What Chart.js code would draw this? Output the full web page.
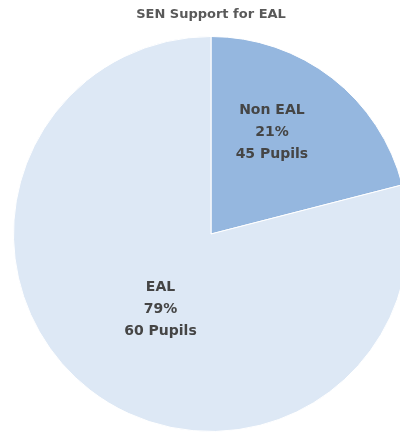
<!DOCTYPE html>
<html>
<head>
<meta charset="utf-8">
<script src="https://cdn.jsdelivr.net/npm/chart.js@4.4.0/dist/chart.umd.min.js"></script>
<style>
    html, body { margin: 0; padding: 0; background: #fff; overflow: hidden; }
    .wrap { width: 400px; height: 434px; overflow: hidden; position: relative; }
    .box { width: 422px; height: 434px; position: absolute; left: 0; top: 0; }
</style>
</head>
<body>
<div class="wrap"><div class="box"><canvas id="pie"></canvas></div></div>
<script>
"use strict";

let categories = ["Non EAL", "EAL"];
let percents = [21, 79];
let pupils = [45, 60];
let sliceColors = ["#95b7df", "#dde8f5"];
let labelDepth = [0.6, 0.46];
let labelTurn = [-0.12, -0.07];

// draws the three-line label inside each slice
let sliceLabels = {
    id: "sliceLabels",
    afterDatasetsDraw: function (chart) {
        let ctx = chart.ctx;
        let meta = chart.getDatasetMeta(0);
        ctx.save();
        ctx.fillStyle = "#454545";
        ctx.font = "bold 14px 'DejaVu Sans', sans-serif";
        ctx.textAlign = "center";
        ctx.textBaseline = "middle";
        meta.data.forEach(function (arc, i) {
            let p = arc.getProps(["x", "y", "startAngle", "endAngle", "outerRadius"], true);
            let mid = (p.startAngle + p.endAngle) / 2 + labelTurn[i];
            let r = p.outerRadius * labelDepth[i];
            let cx = p.x + Math.cos(mid) * r;
            let cy = p.y + Math.sin(mid) * r;
            let lines = [categories[i], percents[i] + "%", pupils[i] + " Pupils"];
            lines.forEach(function (txt, j) {
                ctx.fillText(txt, cx, cy + (j - 1) * 22);
            });
        });
        ctx.restore();
    }
};

new Chart(document.getElementById("pie").getContext("2d"), {
    type: "pie",
    data: {
        labels: categories,
        datasets: [{
            data: percents,
            backgroundColor: sliceColors,
            borderColor: "#ffffff",
            borderWidth: 1
        }]
    },
    options: {
        responsive: true,
        maintainAspectRatio: false,
        animation: false,
        layout: { padding: { bottom: 2 } },
        plugins: {
            legend: { display: false },
            tooltip: { enabled: false },
            title: {
                display: true,
                text: "SEN Support for EAL",
                color: "#595959",
                font: { family: "'DejaVu Sans', sans-serif", size: 13, weight: "bold", lineHeight: 1.2 },
                padding: { top: 7, bottom: 13.4 }
            }
        }
    },
    plugins: [sliceLabels]
});
</script>
</body>
</html>
